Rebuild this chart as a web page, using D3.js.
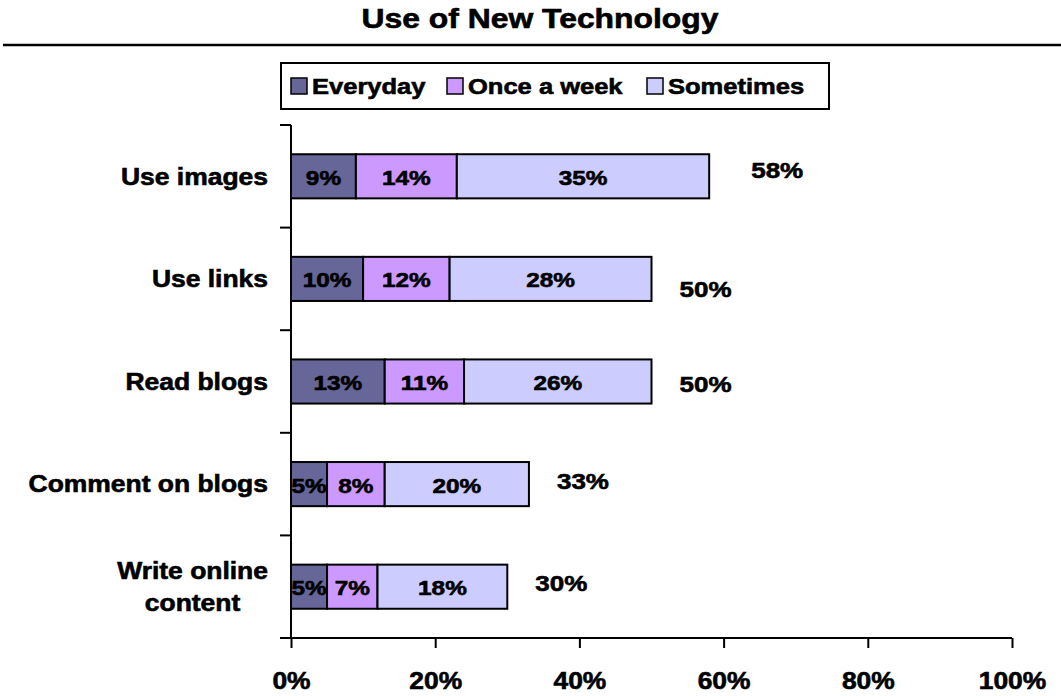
<!DOCTYPE html>
<html>
<head>
<meta charset="utf-8">
<script src="https://cdn.jsdelivr.net/npm/d3@7"></script>
<style>
  html, body { margin: 0; padding: 0; background: #fff; }
  svg { display: block; }
  text { font-family: "Liberation Sans", Arial, sans-serif; font-weight: bold; fill: #000;
         stroke: #000; stroke-width: 0.6px; }
</style>
</head>
<body>
<svg id="chart" width="1061" height="696"></svg>
<script>
// Survey answers: share of respondents per frequency of use
const categories = ["Use images", "Use links", "Read blogs", "Comment on blogs", "Write online content"];
const everyday   = [9, 10, 13, 5, 5];
const onceAWeek  = [14, 12, 11, 8, 7];
const sometimes  = [35, 28, 26, 20, 18];
const totals     = [58, 50, 50, 33, 30];
const seriesNames = ["Everyday", "Once a week", "Sometimes"];
const xTicks = [0, 20, 40, 60, 80, 100];

const colors = ["#666699", "#CC99FF", "#CCCCFF"];
const SX = 1.16; // horizontal text stretch

const svg = d3.select("#chart");

// place a text element at (x, y) with horizontal stretch
function place(sel, x, y, sx) {
  return sel.attr("x", 0).attr("y", 0)
    .attr("transform", `translate(${x},${y}) scale(${sx},1)`);
}

// ---- title and rule ----
place(svg.append("text").attr("text-anchor", "middle").attr("font-size", 27)
  .text("Use of New Technology"), 540, 28, 1.18);
svg.append("line").attr("x1", 3).attr("x2", 1061).attr("y1", 45).attr("y2", 45)
  .attr("stroke", "#000").attr("stroke-width", 2.5);

// ---- scales ----
const x = d3.scaleLinear().domain([0, 100]).range([291, 1012]);
const pad = 0.57;
const y = d3.scaleBand().domain(categories).range([125, 638])
  .paddingInner(pad).paddingOuter(pad / 2);

// ---- stacked data ----
const rows = categories.map((c, i) => ({
  cat: c, Everyday: everyday[i], "Once a week": onceAWeek[i], Sometimes: sometimes[i], total: totals[i]
}));
const stack = d3.stack().keys(seriesNames)(rows);

// ---- axes ----
const axisG = svg.append("g");
const step = y.step();
const y0 = y.range()[0];
const yEnd = y.range()[1];
// vertical axis line with ticks between categories
axisG.append("line").attr("x1", x(0)).attr("x2", x(0)).attr("y1", y0).attr("y2", yEnd)
  .attr("stroke", "#000").attr("stroke-width", 2);
d3.range(categories.length + 1).forEach(i => {
  const ty = y0 + i * step;
  axisG.append("line").attr("x1", x(0) - 11).attr("x2", x(0)).attr("y1", ty).attr("y2", ty)
    .attr("stroke", "#000").attr("stroke-width", 2);
});

const xAxis = d3.axisBottom(x).tickValues(xTicks).tickSize(10).tickFormat(d => d + "%");
const xg = svg.append("g").attr("transform", `translate(0,${yEnd})`).call(xAxis);
xg.select(".domain").attr("stroke", "#000").attr("stroke-width", 2)
  .attr("d", `M${x(0)},0H${x(100)}`);
xg.selectAll(".tick line").attr("stroke", "#000").attr("stroke-width", 2);
xg.selectAll(".tick text").attr("font-size", 24).attr("font-family", null)
  .attr("fill", null)
  .attr("dy", null).attr("text-anchor", "middle")
  .each(function() { place(d3.select(this), 0, 51, 1.1); });

// ---- bars ----
const layers = svg.append("g").selectAll("g").data(stack).join("g");
layers.selectAll("rect").data(d => d).join("rect")
  .attr("fill", function() { return colors[stack.indexOf(d3.select(this.parentNode).datum())]; })
  .attr("x", d => x(d[0]))
  .attr("y", d => y(d.data.cat))
  .attr("width", d => x(d[1]) - x(d[0]))
  .attr("height", y.bandwidth())
  .attr("stroke", "#000").attr("stroke-width", 2);

// segment value labels
layers.each(function(layer) {
  d3.select(this).selectAll("text").data(layer).join("text")
    .attr("text-anchor", "middle").attr("font-size", 21).attr("dy", "0.36em")
    .text(d => (d[1] - d[0]) + "%")
    .each(function(d) {
      place(d3.select(this), (x(d[0]) + x(d[1])) / 2, y(d.data.cat) + y.bandwidth() / 2 + 1, SX);
    });
});

// total labels beside each bar
const totalNudge = [[14, -6], [0, 10], [0, 3], [0, -3], [0, -4]];
svg.append("g").selectAll("text").data(rows).join("text")
  .attr("text-anchor", "middle").attr("font-size", 22).attr("dy", "0.36em")
  .text(d => d.total + "%")
  .each(function(d, i) {
    place(d3.select(this), x(d.total) + 54 + totalNudge[i][0],
      y(d.cat) + y.bandwidth() / 2 + totalNudge[i][1], 1.18);
  });

// ---- category labels (wrapped, right-aligned block) ----
const labelRight = 268;
const maxLabelW = 250;
const lineGap = 32;
const catG = svg.append("g");
categories.forEach(cat => {
  const cy = y(cat) + y.bandwidth() / 2;
  // word wrap by measured width
  const probe = catG.append("text").attr("font-size", 23);
  const words = cat.split(" ");
  const lines = [];
  let cur = [];
  words.forEach(w => {
    const test = cur.concat([w]).join(" ");
    probe.text(test);
    if (probe.node().getComputedTextLength() * 1.15 > maxLabelW && cur.length) {
      lines.push(cur.join(" "));
      cur = [w];
    } else cur.push(w);
  });
  lines.push(cur.join(" "));
  const widths = lines.map(l => { probe.text(l); return probe.node().getComputedTextLength() * 1.15; });
  probe.remove();
  const blockW = d3.max(widths);
  const cx = labelRight - blockW / 2;
  lines.forEach((l, k) => {
    const ly = cy + (k - (lines.length - 1) / 2) * lineGap;
    place(catG.append("text").attr("text-anchor", "middle").attr("font-size", 23)
      .attr("dy", "0.36em").text(l), cx, ly, 1.15);
  });
});

// ---- legend ----
const lg = svg.append("g");
lg.append("rect").attr("x", 281).attr("y", 63).attr("width", 548).attr("height", 46)
  .attr("fill", "#fff").attr("stroke", "#000").attr("stroke-width", 2);
const legendX = [291, 447, 647];
seriesNames.forEach((name, i) => {
  lg.append("rect").attr("x", legendX[i]).attr("y", 78).attr("width", 16).attr("height", 16)
    .attr("fill", colors[i]).attr("stroke", "#000").attr("stroke-width", 1.5);
  place(lg.append("text").attr("font-size", 22).attr("dy", "0.36em").text(name),
    legendX[i] + 21, 86, 1.16);
});
</script>
</body>
</html>
